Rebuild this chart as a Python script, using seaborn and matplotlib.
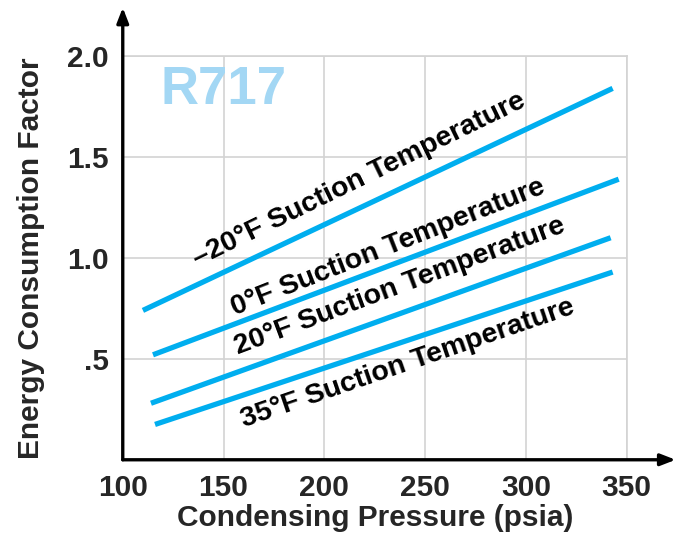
import numpy as np
import pandas as pd
import matplotlib
matplotlib.use("Agg")
import matplotlib.pyplot as plt
import seaborn as sns

# Energy consumption factor vs condensing pressure (R717)
suction_labels = ["–20°F Suction Temperature", "0°F Suction Temperature",
                  "20°F Suction Temperature", "35°F Suction Temperature"]
pressure_start = [110, 115, 114, 116]
pressure_end = [343, 346, 342, 343]
factor_start = [0.74, 0.52, 0.28, 0.175]
factor_end = [1.84, 1.39, 1.10, 0.93]

x_ticks = [100, 150, 200, 250, 300, 350]
y_ticks = [0.5, 1.0, 1.5, 2.0]
y_tick_labels = [".5", "1.0", "1.5", "2.0"]

# label anchor points (data coords) and rotation
label_x = [217.5, 231.5, 237.5, 241.5]
label_y = [1.385, 1.05, 0.86, 0.475]
label_rot = [26.0, 21.5, 20.5, 19.0]

line_color = "#00aeef"
title_color = "#a3d7f4"

rows = []
for name, x0, x1, y0, y1 in zip(suction_labels, pressure_start, pressure_end, factor_start, factor_end):
    rows.append({"curve": name, "pressure": x0, "factor": y0})
    rows.append({"curve": name, "pressure": x1, "factor": y1})
df = pd.DataFrame(rows)

sns.set_style("white")
plt.rcParams["font.family"] = ["Liberation Sans", "DejaVu Sans"]
plt.rcParams["font.weight"] = "bold"

fig = plt.figure(figsize=(6.82, 5.34), dpi=100)
ax = fig.add_axes([0.180, 0.139, 0.739, 0.756])

sns.lineplot(data=df, x="pressure", y="factor", hue="curve",
             palette=[line_color] * len(suction_labels), linewidth=3.8,
             legend=False, ax=ax, solid_capstyle="butt")

ax.set_xlim(100, 350)
ax.set_ylim(0, 2.0)
ax.set_xticks(x_ticks)
ax.set_xticklabels([str(t) for t in x_ticks])
ax.set_yticks(y_ticks)
ax.set_yticklabels(y_tick_labels)
ax.tick_params(axis="both", length=0, labelsize=21.5, pad=10)
for lab in ax.get_xticklabels() + ax.get_yticklabels():
    lab.set_fontweight("bold")

ax.grid(True, color="#d3d3d3", linewidth=1.2)
ax.set_axisbelow(True)
for side in ["top", "right"]:
    ax.spines[side].set_color("#d3d3d3")
    ax.spines[side].set_linewidth(1.2)
for side in ["left", "bottom"]:
    ax.spines[side].set_visible(False)

# axes with arrow heads
ax.annotate("", xy=(0, 1.12), xytext=(0, 0), xycoords="axes fraction",
            arrowprops=dict(arrowstyle="-|>,head_length=0.9,head_width=0.35",
                            color="black", lw=2.4, shrinkA=0, shrinkB=0))
ax.annotate("", xy=(1.097, 0), xytext=(0, 0), xycoords="axes fraction",
            arrowprops=dict(arrowstyle="-|>,head_length=0.9,head_width=0.35",
                            color="black", lw=2.4, shrinkA=0, shrinkB=0))

ax.set_xlabel("Condensing Pressure (psia)", fontsize=21.5, fontweight="bold", labelpad=2)
ax.set_ylabel("Energy Consumption Factor", fontsize=21.5, fontweight="bold", labelpad=16)

for text, lx, ly, rot in zip(suction_labels, label_x, label_y, label_rot):
    ax.text(lx, ly, text, rotation=rot, rotation_mode="anchor", ha="center", va="center",
            fontsize=20.5, fontweight="bold", color="black")

ax.text(150, 1.83, "R717", ha="center", va="center", fontsize=38,
        fontweight="bold", color=title_color)

fig.savefig("out.png", dpi=100)
